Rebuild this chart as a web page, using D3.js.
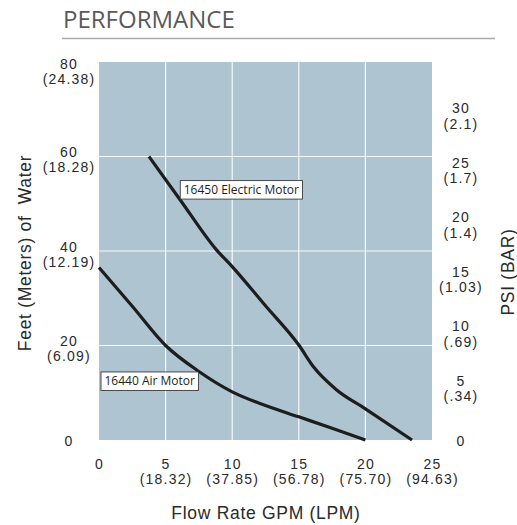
<!DOCTYPE html>
<html>
<head>
<meta charset="utf-8">
<script src="https://cdn.jsdelivr.net/npm/d3@7"></script>
<style>
body{margin:0;background:#fff;}
text{font-family:"Liberation Sans",Arial,sans-serif;}
</style>
</head>
<body>
<svg id="chart" width="517" height="525"></svg>
<script>
// ticks and their second-unit labels
var gpmTicks = [0, 5, 10, 15, 20, 25];
var lpmLabels = ["", "(18.32)", "(37.85)", "(56.78)", "(75.70)", "(94.63)"];
var feetTicks = [0, 20, 40, 60, 80];
var meterLabels = ["", "(6.09)", "(12.19)", "(18.28)", "(24.38)"];
var psiTicks = [0, 5, 10, 15, 20, 25, 30];
var barLabels = ["", "(.34)", "(.69)", "(1.03)", "(1.4)", "(1.7)", "(2.1)"];

// pump curves (GPM vs feet of water)
var electricGpm  = [3.75, 6.1, 8.8, 10, 12.5, 15, 16.1, 17.8, 20, 23.5];
var electricFeet = [60, 50.8, 40.3, 36.7, 28.4, 20.1, 15.5, 10.7, 6.6, 0];
var airGpm  = [0, 2.5, 5, 7.5, 10, 12.5, 15, 17.5, 20];
var airFeet = [36.5, 28.3, 20, 14.5, 10.2, 7.3, 4.9, 2.5, 0];

// callout labels, anchored in data units
var seriesNames = ["16450 Electric Motor", "16440 Air Motor"];
var labelGpm  = [6.1, 0.15];
var labelFeet = [54.9, 14.4];

var FT_PER_PSI = 2.31;

var svg = d3.select("#chart");

var x = d3.scaleLinear().domain([0, 25]).range([99, 432]);
var y = d3.scaleLinear().domain([0, 80]).range([440, 62]);
// psi axis is the same height expressed in psi
var psiY = d3.scaleLinear().domain([0, 80 / FT_PER_PSI]).range([440, 62]);

// header
svg.append("text")
    .attr("x", 63).attr("y", 27.5)
    .style("font-family", "'Open Sans', sans-serif")
    .style("font-size", "24px")
    .attr("fill", "#5a5a5a")
    .text("PERFORMANCE");
svg.append("line")
    .attr("x1", 62).attr("x2", 495)
    .attr("y1", 38.5).attr("y2", 38.5)
    .attr("stroke", "#aaa").attr("stroke-width", 1.6);

// plot background
svg.append("rect")
    .attr("x", x(0)).attr("y", y(80))
    .attr("width", x(25) - x(0)).attr("height", y(0) - y(80))
    .attr("fill", "#aec5d1");

// grid
svg.append("g").selectAll("line")
    .data(gpmTicks.filter(function(d){ return d > 0 && d < 25; }))
    .enter().append("line")
    .attr("x1", function(d){ return x(d); }).attr("x2", function(d){ return x(d); })
    .attr("y1", y(0)).attr("y2", y(80))
    .attr("stroke", "#fff").attr("stroke-width", 1.2).attr("opacity", 0.9);
svg.append("g").selectAll("line")
    .data(feetTicks.filter(function(d){ return d > 0 && d < 80; }))
    .enter().append("line")
    .attr("x1", x(0)).attr("x2", x(25))
    .attr("y1", function(d){ return y(d); }).attr("y2", function(d){ return y(d); })
    .attr("stroke", "#fff").attr("stroke-width", 1.2).attr("opacity", 0.9);

// axes (no domain lines, two-line labels)
function styleTicks(g){
    g.select(".domain").remove();
    g.selectAll(".tick text")
        .attr("fill", "#2a2a2a")
        .style("font-size", "14px")
        .style("letter-spacing", "1.2px")
        .attr("text-anchor", "middle");
}

var xAxis = svg.append("g")
    .attr("transform", "translate(0," + y(0) + ")")
    .call(d3.axisBottom(x).tickValues(gpmTicks).tickSize(0));
styleTicks(xAxis);
xAxis.selectAll(".tick text").each(function(d, i){
    var t = d3.select(this).text(null).attr("dy", null).attr("y", null);
    t.append("tspan").attr("x", 0).attr("y", 28.5).text(d);
    if (lpmLabels[i]) t.append("tspan").attr("x", 0).attr("y", 44).text(lpmLabels[i]);
});

var yAxis = svg.append("g")
    .attr("transform", "translate(" + x(0) + ",0)")
    .call(d3.axisLeft(y).tickValues(feetTicks).tickSize(0));
styleTicks(yAxis);
yAxis.selectAll(".tick text").each(function(d, i){
    var t = d3.select(this).text(null).attr("dy", null).attr("x", null);
    if (!meterLabels[i]) {
        t.append("tspan").attr("x", -30).attr("y", 5).text(d);
        return;
    }
    // keep the top label inside the plot height
    var off = Math.max(0, y.range()[1] + 6 - y(d));
    t.append("tspan").attr("x", -30).attr("y", off).text(d);
    t.append("tspan").attr("x", -30).attr("y", off + 15).text(meterLabels[i]);
});

var pAxis = svg.append("g")
    .attr("transform", "translate(" + x(25) + ",0)")
    .call(d3.axisRight(psiY).tickValues(psiTicks).tickSize(0));
styleTicks(pAxis);
pAxis.selectAll(".tick text").each(function(d, i){
    var t = d3.select(this).text(null).attr("dy", null).attr("x", null);
    if (!barLabels[i]) {
        t.append("tspan").attr("x", 29).attr("y", 5).text(d);
        return;
    }
    t.append("tspan").attr("x", 29).attr("y", 0).text(d);
    t.append("tspan").attr("x", 29).attr("y", 15.5).text(barLabels[i]);
});

// axis titles
svg.append("text")
    .attr("x", 266).attr("y", 519)
    .attr("text-anchor", "middle")
    .attr("fill", "#2a2a2a")
    .style("font-size", "17.5px").style("letter-spacing", "0.7px")
    .text("Flow Rate GPM (LPM)");
svg.append("text")
    .attr("transform", "translate(25,253) rotate(-90)")
    .attr("text-anchor", "middle").attr("dominant-baseline", "central")
    .attr("fill", "#2a2a2a")
    .style("font-size", "17.5px").style("letter-spacing", "0.7px")
    .style("white-space", "pre")
    .text("Feet (Meters) of  Water");
svg.append("text")
    .attr("transform", "translate(507.5,272) rotate(-90)")
    .attr("text-anchor", "middle").attr("dominant-baseline", "central")
    .attr("fill", "#2a2a2a")
    .style("font-size", "17.5px").style("letter-spacing", "0.7px")
    .text("PSI (BAR)");

// curves
var line = d3.line()
    .x(function(d){ return x(d[0]); })
    .y(function(d){ return y(d[1]); })
    .curve(d3.curveMonotoneX);

var series = [d3.zip(electricGpm, electricFeet), d3.zip(airGpm, airFeet)];
svg.append("g").selectAll("path")
    .data(series)
    .enter().append("path")
    .attr("d", line)
    .attr("fill", "none")
    .attr("stroke", "#1d1d1d")
    .attr("stroke-width", 3.2);

// callouts
var callouts = svg.append("g").selectAll("g")
    .data(seriesNames)
    .enter().append("g")
    .attr("transform", function(d, i){ return "translate(" + x(labelGpm[i]) + "," + y(labelFeet[i]) + ")"; });
callouts.each(function(d){
    var g = d3.select(this);
    var rect = g.append("rect").attr("fill", "#fff").attr("stroke", "#3a3a3a").attr("stroke-width", 0.9);
    var t = g.append("text")
        .attr("x", 3.5).attr("y", 13.5)
        .style("font-family", "'Open Sans', sans-serif")
        .style("font-size", "12px")
        .attr("fill", "#231f20")
        .text(d);
    var bb = t.node().getBBox();
    rect.attr("x", 0).attr("y", 0).attr("width", bb.width + 7).attr("height", 18.5);
});
</script>
</body>
</html>
